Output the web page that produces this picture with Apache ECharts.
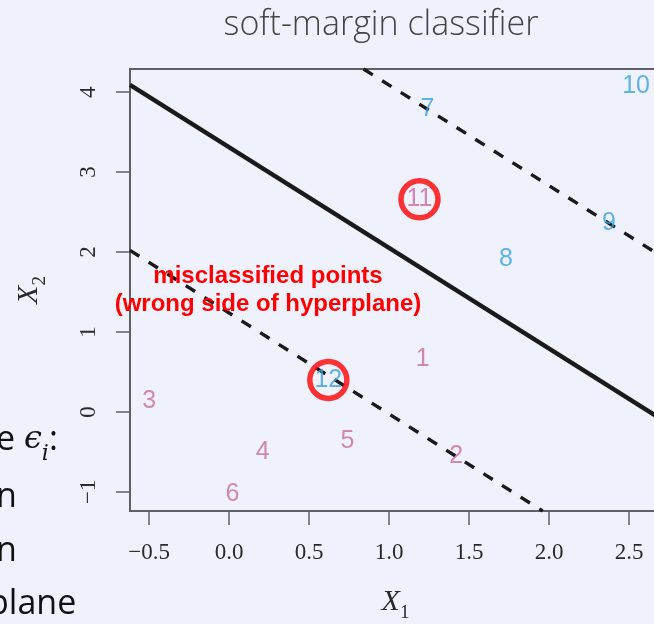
<!DOCTYPE html>
<html>
<head>
<meta charset="utf-8">
<script src="https://cdn.jsdelivr.net/npm/echarts@6/dist/echarts.min.js"></script>
<style>
html,body{margin:0;padding:0;background:#eff2fd;}
#chart{width:654px;height:624px;}
</style>
</head>
<body>
<div id="chart"></div>
<script>
// ---- data ----
const classAIds = ['1', '2', '3', '4', '5', '6', '11'];
const classAX = [1.21, 1.42, -0.50, 0.21, 0.74, 0.02, 1.19];
const classAY = [0.66, -0.55, 0.14, -0.50, -0.37, -1.03, 2.66];

const classBIds = ['7', '8', '9', '10', '12'];
const classBX = [1.24, 1.73, 2.375, 2.544, 0.62];
const classBY = [3.79, 1.91, 2.36, 4.075, 0.40];

const circledX = [1.19, 0.62];
const circledY = [2.66, 0.40];

const hyperplane = [[-0.62, 4.09], [2.70, -0.09]];
const upperMargin = [[0.84, 4.29], [2.70, 1.95]];
const lowerMargin = [[-0.62, 2.02], [1.96, -1.24]];

const xTicks = [-0.5, 0, 0.5, 1, 1.5, 2, 2.5];
const xTickLabels = ['\u22120.5', '0.0', '0.5', '1.0', '1.5', '2.0', '2.5'];
const yTicks = [-1, 0, 1, 2, 3, 4];
const yTickLabels = ['\u22121', '0', '1', '2', '3', '4'];

const titleText = 'soft-margin classifier';
const noteText = 'misclassified points\n(wrong side of hyperplane)';

// ---- chart ----
const chart = echarts.init(document.getElementById('chart'), null, {renderer: 'canvas'});

function pts(ids, xs, ys) {
  return ids.map((id, i) => ({name: id, value: [xs[i], ys[i]]}));
}
function labelFor(ticks, labels) {
  return v => {
    const i = ticks.findIndex(t => Math.abs(t - v) < 1e-9);
    return i >= 0 ? labels[i] : '';
  };
}

const axisColor = '#5f5f66';
const tickFont = {fontFamily: '"Liberation Serif", serif', fontSize: 23, color: '#2a2a2a'};
const nameRich = {
  x: {fontFamily: '"Liberation Serif", serif', fontStyle: 'italic', fontSize: 30, color: '#2a2a2a'},
  s: {fontFamily: '"Liberation Serif", serif', fontSize: 19, color: '#2a2a2a', verticalAlign: 'bottom', padding: [0, 0, -6, 0]}
};

const option = {
  backgroundColor: '#eff2fd',
  animation: false,
  grid: {
    left: 130, top: 69, right: -7, bottom: 113,
    containLabel: false, outerBoundsMode: 'none',
    show: true, borderColor: axisColor, borderWidth: 2, backgroundColor: 'transparent'
  },
  xAxis: {
    type: 'value', min: -0.62, max: 2.70,
    name: '{x|X}{s|1}', nameLocation: 'middle', nameGap: 76,
    nameTextStyle: {rich: nameRich},
    axisLine: {show: true, onZero: false, lineStyle: {color: axisColor, width: 2}},
    splitLine: {show: false},
    axisTick: {show: true, customValues: xTicks, length: 14, lineStyle: {color: axisColor, width: 1.5}},
    axisLabel: Object.assign({customValues: xTicks, margin: 30, formatter: labelFor(xTicks, xTickLabels)}, tickFont)
  },
  yAxis: {
    type: 'value', min: -1.24, max: 4.29,
    name: '{x|X}{s|2}', nameLocation: 'middle', nameGap: 86, nameRotate: 90,
    nameTextStyle: {rich: nameRich},
    axisLine: {show: true, onZero: false, lineStyle: {color: axisColor, width: 2}},
    splitLine: {show: false},
    axisTick: {show: true, customValues: yTicks, length: 14, lineStyle: {color: axisColor, width: 1.5}},
    axisLabel: Object.assign({customValues: yTicks, margin: 30, rotate: 90, formatter: labelFor(yTicks, yTickLabels)}, tickFont)
  },
  series: [
    {
      type: 'line', data: hyperplane, showSymbol: false, symbol: 'none', clip: true, silent: true,
      lineStyle: {color: '#1a1a1a', width: 4.4}, z: 2
    },
    {
      type: 'line', data: upperMargin, showSymbol: false, symbol: 'none', clip: true, silent: true,
      lineStyle: {color: '#1a1a1a', width: 3.4, type: [11, 11]}, z: 2
    },
    {
      type: 'line', data: lowerMargin, showSymbol: false, symbol: 'none', clip: true, silent: true,
      lineStyle: {color: '#1a1a1a', width: 3.4, type: [11, 11]}, z: 2
    },
    {
      type: 'scatter', data: pts(classAIds, classAX, classAY), symbolSize: 1,
      itemStyle: {color: 'rgba(0,0,0,0)'},
      label: {show: true, position: 'inside', formatter: '{b}', color: '#c96b9c',
        fontFamily: '"Liberation Sans", Arial, sans-serif', fontSize: 25}, z: 3
    },
    {
      type: 'scatter', data: pts(classBIds, classBX, classBY), symbolSize: 1,
      itemStyle: {color: 'rgba(0,0,0,0)'},
      label: {show: true, position: 'inside', formatter: '{b}', color: '#3aa3dc',
        fontFamily: '"Liberation Sans", Arial, sans-serif', fontSize: 25}, z: 3
    },
    {
      type: 'scatter', data: circledX.map((x, i) => [x, circledY[i]]), symbol: 'circle', symbolSize: 37,
      itemStyle: {color: 'rgba(0,0,0,0)', borderColor: '#ff0000', borderWidth: 5.5}, z: 4
    }
  ],
  graphic: [
    {
      type: 'text', x: 381, y: 25,
      style: {text: titleText, font: '300 34px "Open Sans", "Noto Sans", sans-serif', fill: '#454545',
        align: 'center', verticalAlign: 'middle'}
    },
    {
      type: 'text', x: 268, y: 290, z: 10,
      style: {text: noteText, font: 'bold 24px "Liberation Sans", Arial, sans-serif', fill: '#ff0000',
        align: 'center', verticalAlign: 'middle', lineHeight: 28}
    },
    {
      type: 'text', x: -4, y: 440,
      style: {
        text: '{a|e }{b|\u03F5}{c|i}{a|:}', verticalAlign: 'middle',
        rich: {
          a: {font: '34px "Open Sans", sans-serif', fill: '#111'},
          b: {font: 'italic 32px "DejaVu Serif", serif', fill: '#111'},
          c: {font: 'italic 22px "DejaVu Serif", serif', fill: '#111', verticalAlign: 'bottom', padding: [0, 0, -8, 0]}
        }
      }
    },
    {type: 'text', x: -4, y: 497, style: {text: 'n', font: '34px "Open Sans", sans-serif', fill: '#111', verticalAlign: 'middle'}},
    {type: 'text', x: -4, y: 551, style: {text: 'n', font: '34px "Open Sans", sans-serif', fill: '#111', verticalAlign: 'middle'}},
    {type: 'text', x: -12, y: 604, style: {text: 'plane', font: '34px "Open Sans", sans-serif', fill: '#111', verticalAlign: 'middle'}}
  ]
};
chart.setOption(option);
</script>
</body>
</html>
